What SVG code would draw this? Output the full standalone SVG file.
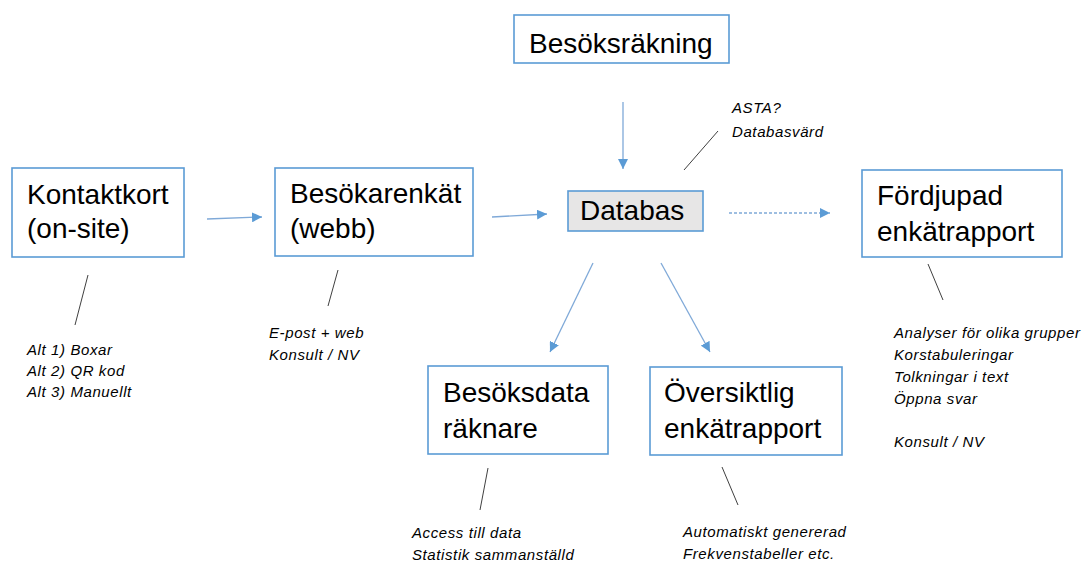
<svg xmlns="http://www.w3.org/2000/svg" width="1086" height="562" viewBox="0 0 1086 562">
<style>
.box{fill:#ffffff;stroke:#5b9bd5;stroke-width:1.6}
.db{fill:#e7e6e6;stroke:#5b9bd5;stroke-width:1.6}
.t{font-family:"Liberation Sans",Arial,sans-serif;font-size:28px;fill:#000}
.n{font-family:"Liberation Sans",Arial,sans-serif;font-size:15px;font-style:italic;letter-spacing:0.6px;fill:#000}
.c{stroke:#7fa9d8;stroke-width:1.3;fill:none}
.l{stroke:#404040;stroke-width:1;fill:none}
</style>
<defs>
<marker id="ah" viewBox="0 0 10 10" refX="10" refY="5" markerWidth="10" markerHeight="10" markerUnits="userSpaceOnUse" orient="auto">
<path d="M0,0 L10,5 L0,10 z" fill="#5b9bd5"/>
</marker>
</defs>
<rect width="1086" height="562" fill="#ffffff"/>
<g id="connectors">
<line class="c" x1="207" y1="219" x2="262" y2="217" marker-end="url(#ah)"/>
<line class="c" x1="492" y1="217" x2="547" y2="214" marker-end="url(#ah)"/>
<line class="c" x1="623" y1="102" x2="623" y2="169" marker-end="url(#ah)"/>
<line class="c" x1="729" y1="213" x2="830" y2="213" stroke-dasharray="3,2" marker-end="url(#ah)"/>
<line class="c" x1="593" y1="263" x2="550" y2="352" marker-end="url(#ah)"/>
<line class="c" x1="661" y1="263" x2="710" y2="352" marker-end="url(#ah)"/>
<line class="l" x1="88" y1="275" x2="75" y2="325"/>
<line class="l" x1="338" y1="270" x2="328" y2="306"/>
<line class="l" x1="684" y1="170" x2="718" y2="131"/>
<line class="l" x1="928" y1="264" x2="943" y2="300"/>
<line class="l" x1="488" y1="468" x2="480" y2="510"/>
<line class="l" x1="722" y1="467" x2="738" y2="505"/>
</g>
<g id="kontaktkort">
<rect class="box" x="12" y="168" width="172" height="89"/>
<text class="t" x="27" y="204">Kontaktkort</text>
<text class="t" x="27" y="238">(on-site)</text>
</g>
<g id="besokarenkat">
<rect class="box" x="275" y="168" width="198" height="88"/>
<text class="t" x="290" y="203">Besökarenkät</text>
<text class="t" x="290" y="238">(webb)</text>
</g>
<g id="besoksrakning">
<rect class="box" x="514" y="15" width="215" height="48"/>
<text class="t" x="529" y="53">Besöksräkning</text>
</g>
<g id="databas">
<rect class="db" x="568" y="191" width="135" height="40"/>
<text class="t" x="580" y="220">Databas</text>
</g>
<g id="fordjupad">
<rect class="box" x="862" y="170" width="200" height="87"/>
<text class="t" x="877" y="205">Fördjupad</text>
<text class="t" x="877" y="241">enkätrapport</text>
</g>
<g id="besoksdata">
<rect class="box" x="428" y="366" width="180" height="88"/>
<text class="t" x="443" y="402">Besöksdata</text>
<text class="t" x="443" y="438">räknare</text>
</g>
<g id="oversiktlig">
<rect class="box" x="650" y="367" width="192" height="88"/>
<text class="t" x="664" y="402">Översiktlig</text>
<text class="t" x="664" y="438">enkätrapport</text>
</g>
<g id="notes">
<text class="n" x="27" y="355">Alt 1) Boxar</text>
<text class="n" x="27" y="376">Alt 2) QR kod</text>
<text class="n" x="27" y="397">Alt 3) Manuellt</text>
<text class="n" x="269" y="338">E-post + web</text>
<text class="n" x="269" y="360">Konsult / NV</text>
<text class="n" x="732" y="113">ASTA?</text>
<text class="n" x="732" y="137">Databasvärd</text>
<text class="n" x="894" y="338">Analyser för olika grupper</text>
<text class="n" x="894" y="360">Korstabuleringar</text>
<text class="n" x="894" y="382">Tolkningar i text</text>
<text class="n" x="894" y="404">Öppna svar</text>
<text class="n" x="894" y="447">Konsult / NV</text>
<text class="n" x="412" y="538">Access till data</text>
<text class="n" x="412" y="560">Statistik sammanställd</text>
<text class="n" x="683" y="537">Automatiskt genererad</text>
<text class="n" x="683" y="559">Frekvenstabeller etc.</text>
</g>
</svg>
